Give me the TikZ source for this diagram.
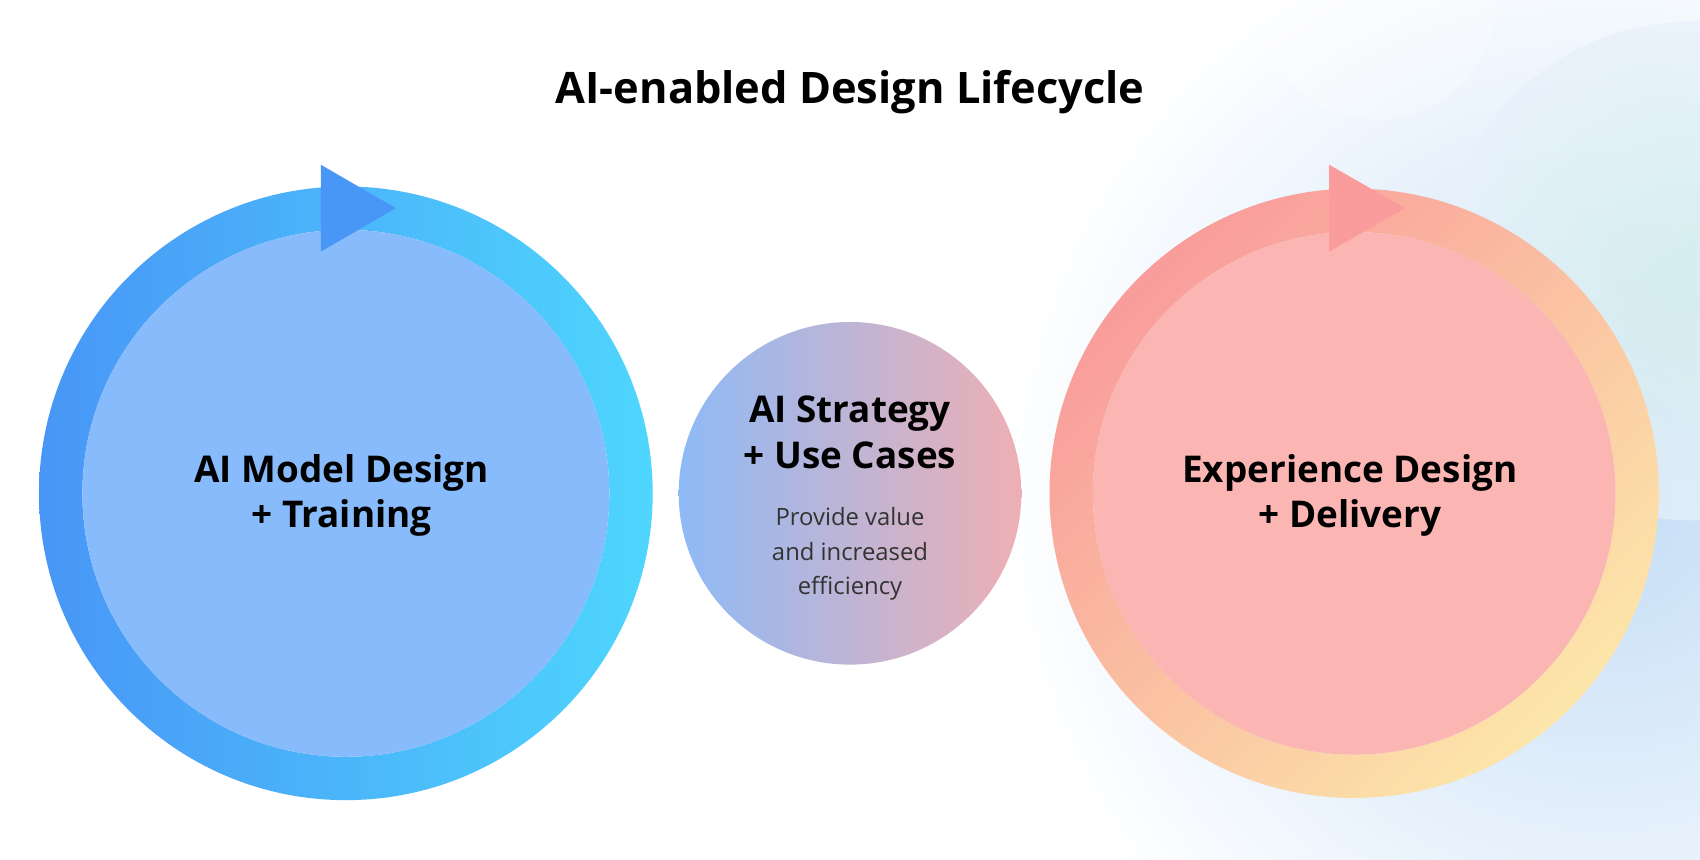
\documentclass[tikz,border=0pt]{standalone}
\usepackage{fontspec}
\setmainfont{Open Sans}
\definecolor{bA}{HTML}{4896F6}
\definecolor{bB}{HTML}{4ED6FD}
\definecolor{bIn}{HTML}{88BBFB}
\definecolor{pA}{HTML}{F99C9B}
\definecolor{pB}{HTML}{FCE6A9}
\definecolor{pIn}{HTML}{FBB5B3}
\definecolor{mA}{HTML}{8EBAF6}
\definecolor{mB}{HTML}{EEAFB4}
\definecolor{glowB}{HTML}{C4DDF6}
\definecolor{glowG}{HTML}{D3F0EA}
\tikzset{
  lbl/.style={font=\fontsize{34}{42}\selectfont\bfseries, align=center, text=black},
  small/.style={font=\fontsize{22}{32}\selectfont, align=center, text=black!80},
}
\begin{document}
\begin{tikzpicture}[x=1pt,y=-1pt]
\useasboundingbox (0,0) rectangle (1568,793);
\fill[white] (0,0) rectangle (1568,793);
\begin{scope}
\clip (0,0) rectangle (1568,793);
\shade[inner color=glowB, outer color=white] (1480,460) circle (560);
\shade[inner color=glowG, outer color=glowB!40!white, opacity=0.7] (1560,250) circle (230);
\fill[white,opacity=0.25] (1270,0) circle (110);
\end{scope}
% left ring
\shade[left color=bA, right color=bB, even odd rule] (319,455) circle (283) (319,455) circle (243);
\fill[bIn] (319,455) circle (243) node[coordinate] (lc) {};
\fill[bA] (296,152) coordinate (la1) -- (365,192) coordinate (la2) -- (296,232) coordinate (la3) -- cycle;
\node[lbl] (lt) at (315,457) {AI Model Design\\+ Training};
% middle
\shade[left color=mA, right color=mB] (784,455) circle (158);
\node[lbl] (mt) at (784,399) {AI Strategy\\+ Use Cases};
\node[small] (ms) at (784,511) {Provide value\\and increased\\efficiency};
% right ring
\shade[top color=pA, middle color=pA!70!pB, bottom color=pB, shading angle=45, even odd rule] (1249,455) circle (281) (1249,455) circle (241);
\fill[pIn] (1249,455) circle (241);
\fill[pA] (1226,152) -- (1296,192) -- (1226,232) -- cycle;
\node[lbl] (rt) at (1245,457) {Experience Design\\+ Delivery};
% title
\node[font=\fontsize{40}{48}\selectfont\bfseries] (title) at (784,85) {AI-enabled Design Lifecycle};
\end{tikzpicture}
\end{document}
